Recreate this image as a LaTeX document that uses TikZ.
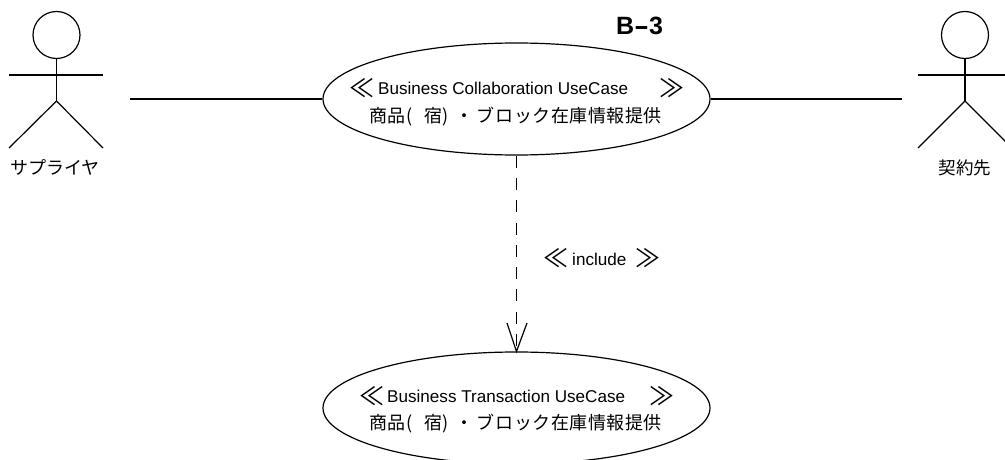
\documentclass[tikz,border=0pt]{standalone}
\usepackage{fontspec}
\usetikzlibrary{shapes.geometric,arrows.meta}
\setmainfont{Liberation Sans}
\newfontfamily\cjk[LetterSpace=3]{Noto Sans CJK JP}
\newfontfamily\cjkplain{Noto Sans CJK JP}
\newcommand{\prodname}{{\cjk 商品(\kern12pt 宿)\kern7pt・\kern3pt ブロック在庫情報提供}}
\tikzset{
  x=1pt,y=-1pt,
  line/.style={draw=black,line width=1.2pt},
  usecase/.style={ellipse,draw=black,line width=1.2pt,minimum width=387pt,minimum height=112pt,inner sep=0pt},
  head/.style={circle,draw=black,line width=1.2pt,minimum size=47pt,inner sep=0pt},
  lab/.style={inner sep=0pt,text=black,font=\fontsize{17.1}{18}\selectfont},
  jp/.style={inner sep=0pt,text=black,font=\fontsize{18}{18}\selectfont},
  gui/.style={inner sep=0pt,text=black,font=\fontsize{25}{25}\cjkplain},
}
\begin{document}
\begin{tikzpicture}
\useasboundingbox (0,0) rectangle (1005,460);
\clip (0,0) rectangle (1005,460);
% use cases
\node[usecase] (uc1) at (516.5,99) {};
\node[usecase] (uc2) at (516.5,408) {};
% left actor
\node[head] (h1) at (56.5,35) {};
\coordinate (a1l) at (9,75); \coordinate (a1r) at (103,75);
\coordinate (hip1) at (56.5,101);
\coordinate (f1l) at (9,148); \coordinate (f1r) at (103,148);
\draw[line] (h1.south) -- (hip1);
\draw[line] (a1l) -- (a1r);
\draw[line] (f1l) -- (hip1) -- (f1r);
\node[jp,font=\fontsize{18}{18}\cjkplain] (n1) at (55,167) {サプライヤ};
% right actor
\node[head] (h2) at (965,35) {};
\coordinate (a2l) at (918,75); \coordinate (a2r) at (1012,75);
\coordinate (hip2) at (965,101);
\coordinate (f2l) at (918,148); \coordinate (f2r) at (1012,148);
\draw[line] (h2.south) -- (hip2);
\draw[line] (a2l) -- (a2r);
\draw[line] (f2l) -- (hip2) -- (f2r);
\node[jp,font=\fontsize{17.5}{18}\cjkplain] (n2) at (965,168) {契約先};
% associations
\coordinate (e1) at (130,99); \coordinate (e2) at (902,99);
\draw[line] (e1) -- (uc1.west);
\draw[line] (uc1.east) -- (e2);
% include
\draw[draw=black,line width=1.5pt,dash pattern=on 12pt off 10.3pt] (uc1.south) -- (uc2.north);
\coordinate (t1) at (507,323); \coordinate (t2) at (527,323);
\draw[line] (t1) -- (uc2.north) -- (t2);
% title
\node[inner sep=0pt,font=\fontsize{25}{26}\selectfont] (title) at (639.5,26) {\textbf{B\scalebox{1.8}[1]{-}3}};
% text of use case 1
\node[gui,anchor=center] (g1l) at (362,88) {≪};
\node[lab,anchor=west] (t1a) at (378,88.5) {Business Collaboration UseCase};
\node[gui,anchor=center] (g1r) at (672,88) {≫};
\node[jp,anchor=west] (t1b) at (369,117) {\prodname};
% text of use case 2
\node[gui,anchor=center] (g2l) at (372,396) {≪};
\node[lab,anchor=west] (t2a) at (387,396.5) {Business Transaction UseCase};
\node[gui,anchor=center] (g2r) at (662,396) {≫};
\node[jp,anchor=west] (t2b) at (369,423.5) {\prodname};
% include label
\node[gui,anchor=center] (g3l) at (556,258) {≪};
\node[lab,anchor=west] (t3) at (572,259) {include};
\node[gui,anchor=center] (g3r) at (648,258) {≫};
\end{tikzpicture}
\end{document}
